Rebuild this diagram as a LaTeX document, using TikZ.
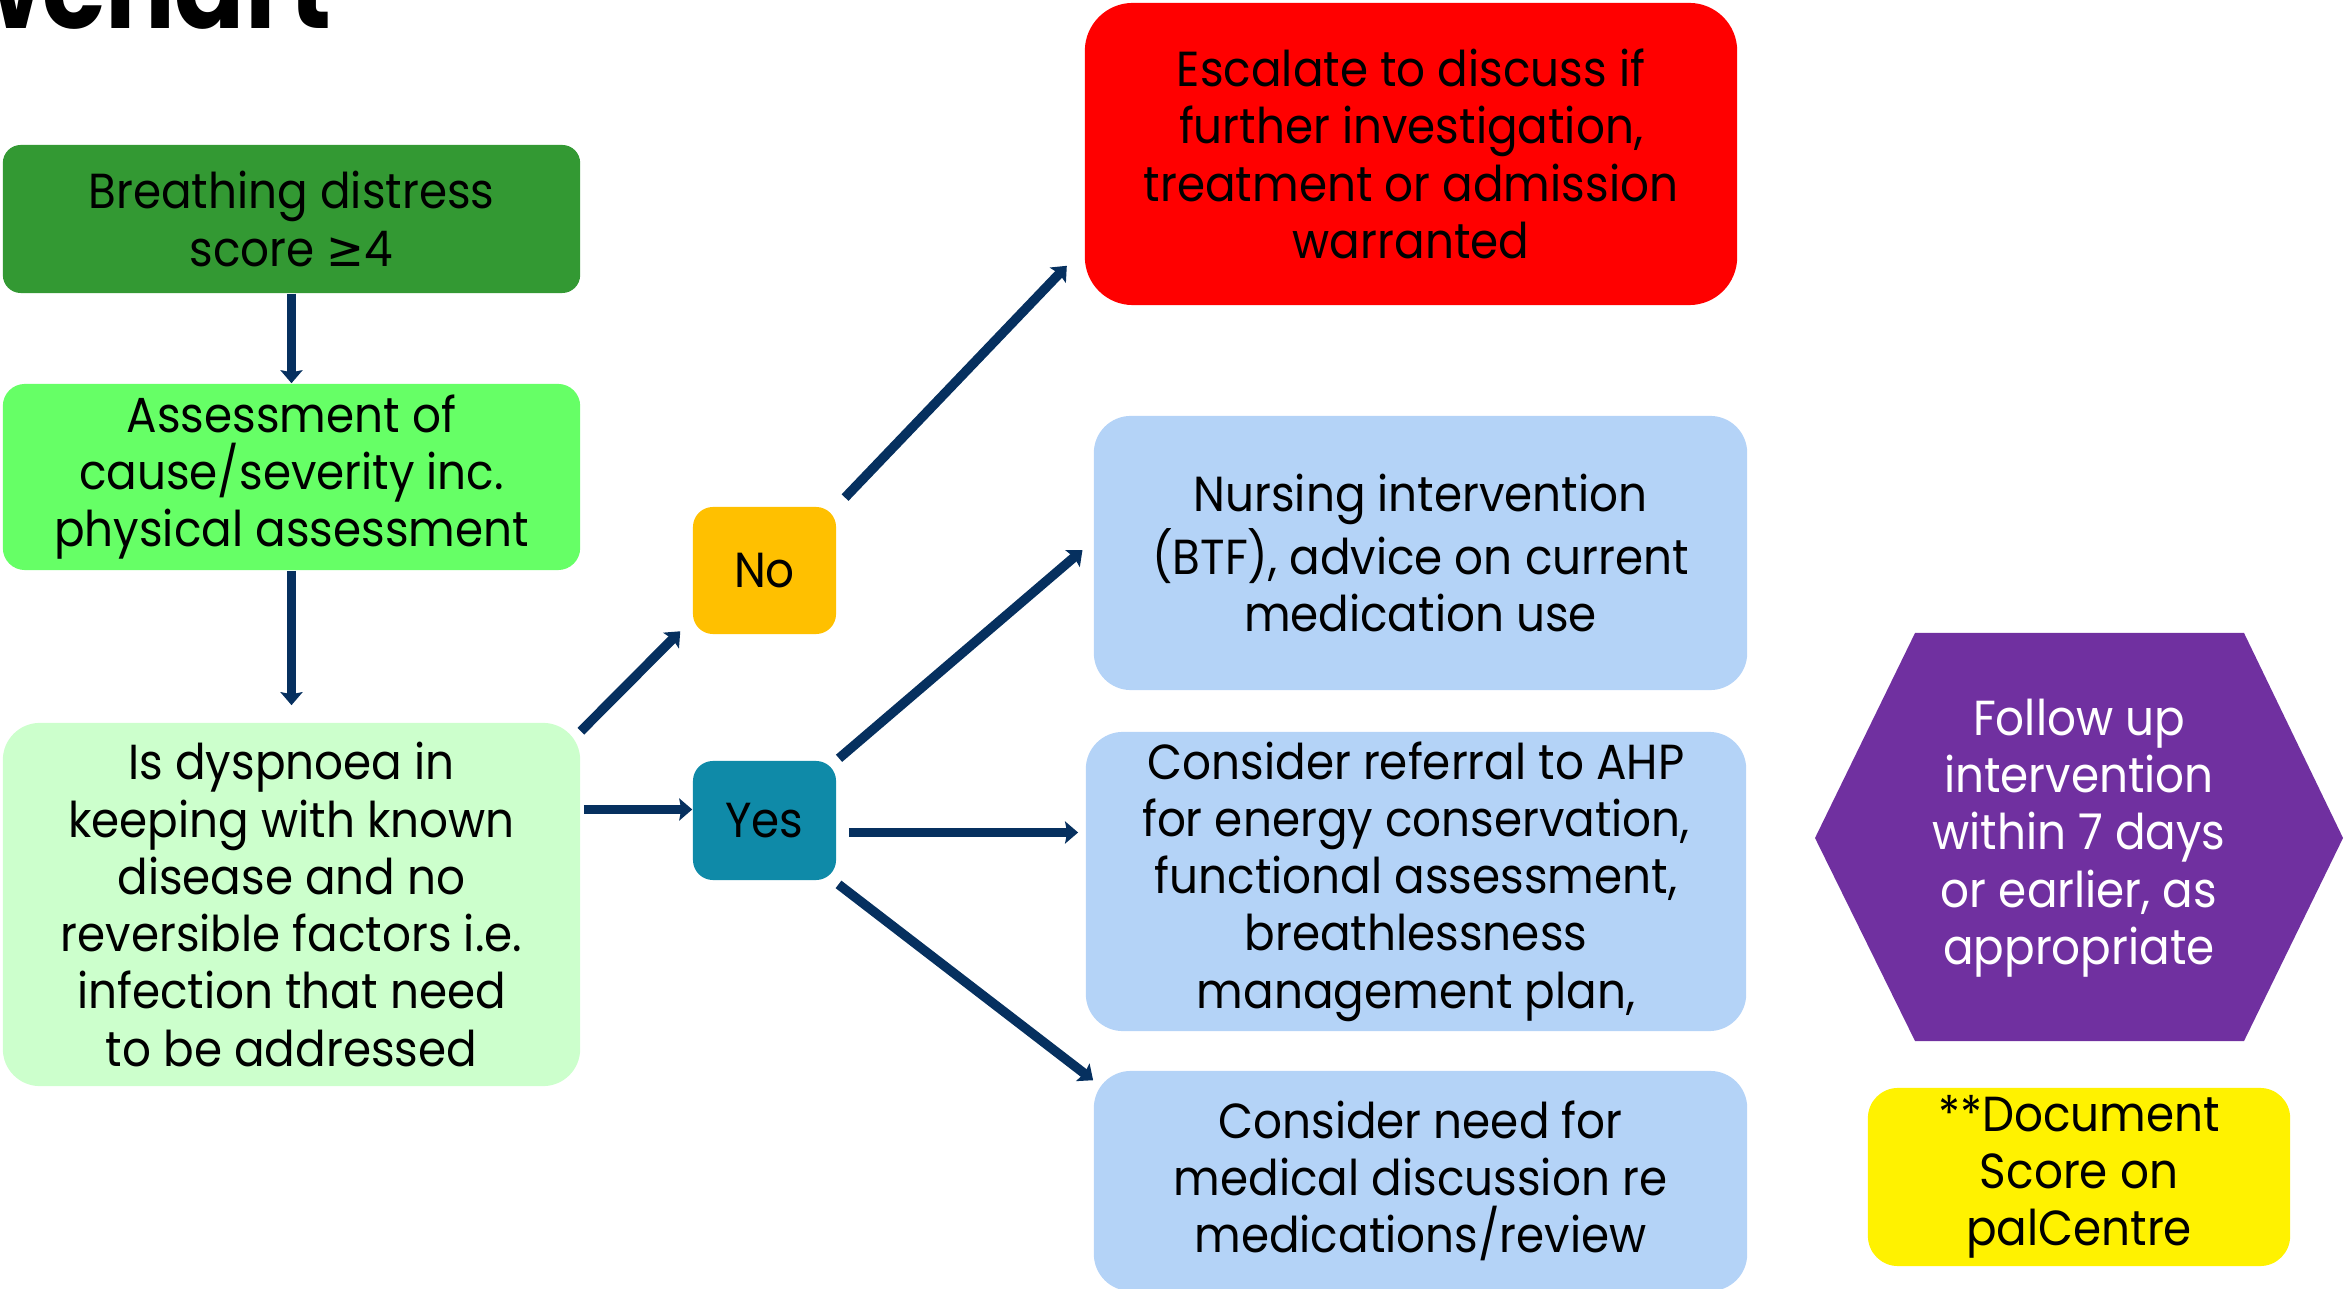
\documentclass[tikz,border=0pt]{standalone}
\usepackage{fontspec}
\setmainfont{Poppins}[FakeStretch=0.92]
\newfontfamily\symfont{DejaVu Sans}[FakeStretch=0.92]
\usetikzlibrary{arrows.meta}
\definecolor{darkgrn}{HTML}{339933}
\definecolor{litegrn}{HTML}{66FF66}
\definecolor{palegrn}{HTML}{CCFFCC}
\definecolor{noyel}{HTML}{FFC000}
\definecolor{yesteal}{HTML}{0F8AA8}
\definecolor{palblue}{HTML}{B4D3F7}
\definecolor{fupurple}{HTML}{7030A0}
\definecolor{navy}{HTML}{06305F}
\begin{document}
\begin{tikzpicture}[x=0.01cm,y=-0.01cm,
  box/.style={rounded corners=0.37cm,align=center,inner sep=0pt,font=\fontsize{14}{16.3}\selectfont},
  flow/.style={draw=navy,line width=0.095cm,-{Stealth[length=0.13cm,width=0.22cm,inset=0.02cm]}}]
\useasboundingbox (0,0) rectangle (2346,1289);

\node[anchor=base east,font=\bfseries\fontsize{32}{32}\selectfont] (title) at (344,29) {Flowchart};

\node[box,fill=darkgrn,rounded corners=0.18cm,minimum width=5.77cm,minimum height=1.48cm] (score) at (291.5,219) {Breathing distress\\score {\symfont ≥}4};
\node[box,fill=litegrn,rounded corners=0.22cm,minimum width=5.77cm,minimum height=1.86cm] (assess) at (291.5,477) {Assessment of\\cause/severity inc.\\physical assessment};
\node[box,fill=palegrn,minimum width=5.77cm,minimum height=3.63cm] (dysp) at (291.5,904.5) {Is dyspnoea in\\keeping with known\\disease and no\\reversible factors i.e.\\infection that need\\to be addressed};

\node[box,fill=noyel,rounded corners=0.2cm,minimum width=1.43cm,minimum height=1.27cm] (no) at (764.5,570.5) {No};
\node[box,fill=yesteal,rounded corners=0.2cm,minimum width=1.43cm,minimum height=1.19cm] (yes) at (764.5,820.5) {Yes};

\node[box,fill=red,rounded corners=0.48cm,minimum width=6.52cm,minimum height=3.02cm] (escal) at (1411,154) {Escalate to discuss if\\further investigation,\\treatment or admission\\warranted};
\node[box,fill=palblue,minimum width=6.53cm,minimum height=2.74cm] (nurse) at (1420.5,553) {Nursing intervention\\(BTF), advice on current\\medication use};
\node[box,fill=palblue,minimum width=6.6cm,minimum height=2.99cm] (ahp) at (1416,881.5) {Consider referral to AHP\\for energy conservation,\\functional assessment,\\breathlessness\\management plan,};
\node[box,fill=palblue,minimum width=6.53cm,minimum height=2.2cm] (medic) at (1420.5,1181) {Consider need for\\medical discussion re\\medications/review};

\fill[fupurple] (1815,838) -- (1915,633) -- (2244,633) -- (2343,838) -- (2244,1041) -- (1915,1041) -- cycle;
\node[box,text=white] (follow) at (2079,838) {Follow up\\intervention\\within 7 days\\or earlier, as\\appropriate};
\node[box,fill=yellow,rounded corners=0.3cm,minimum width=4.22cm,minimum height=1.78cm] (docu) at (2079,1177) {**Document\\Score on\\palCentre};

\coordinate (yw) at ([yshift=0.11cm]yes.west);
\coordinate (ye) at ([yshift=-0.12cm]yes.east);

\draw[flow] (score) -- (assess);
\draw[flow,shorten >=0.17cm] (assess) -- (dysp);
\draw[flow,shorten >=0.17cm] ([yshift=-0.09cm]dysp.north east) -- (no.214);
\draw[flow,shorten <=0.03cm] (yw -| dysp.east) -- (yw);
\draw[flow,shorten <=0.12cm,shorten >=0.25cm] (no.north east) -- (escal.196);
\draw[flow,shorten <=0.03cm,shorten >=0.14cm] (yes.north east) -- ([yshift=0.12cm]nurse.west);
\draw[flow,shorten <=0.12cm,shorten >=0.07cm] (ye) -- (ye -| ahp.west);
\draw[flow,shorten <=0.06cm] ([xshift=-0.03cm]yes.south east) -- ([yshift=-0.1cm]medic.north west);
\end{tikzpicture}
\end{document}
